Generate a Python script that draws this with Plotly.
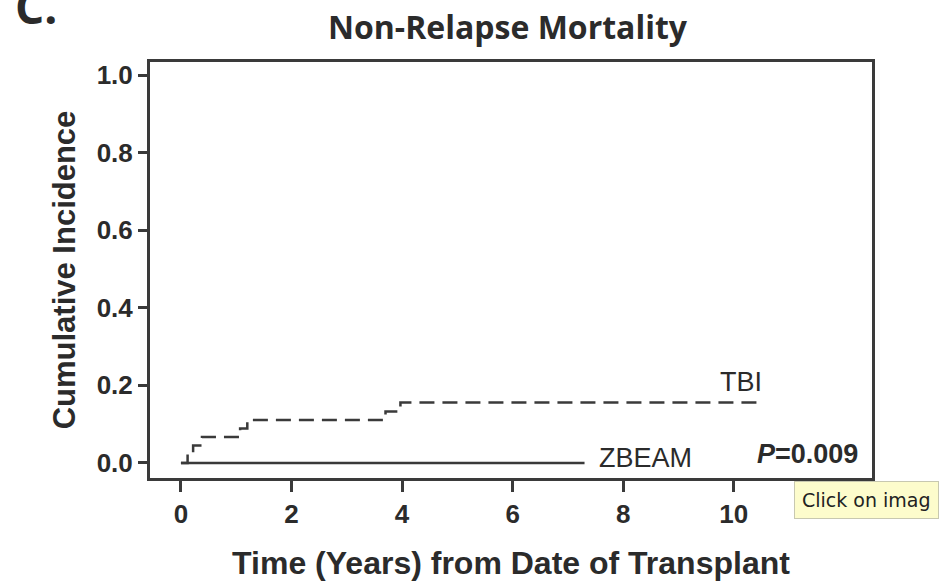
import plotly.graph_objects as go

# Cumulative incidence of non-relapse mortality by conditioning regimen
tbi_years = [0.0, 0.12, 0.22, 0.38, 1.07, 1.20, 3.70, 3.97, 10.5]
tbi_ci = [0.0, 0.022, 0.045, 0.067, 0.089, 0.111, 0.133, 0.156, 0.156]

zbeam_years = [0.0, 7.3]
zbeam_ci = [0.0, 0.0]

x_ticks = [0, 2, 4, 6, 8, 10, 12]
x_ticktext = ["0", "2", "4", "6", "8", "10", ""]
y_ticks = [0.0, 0.2, 0.4, 0.6, 0.8, 1.0]
y_ticktext = ["0.0", "0.2", "0.4", "0.6", "0.8", "1.0"]

FONT = "Liberation Sans, Arial, Helvetica, sans-serif"
TITLE_FONT = "Open Sans, Liberation Sans, sans-serif"
INK = "#2b2b2b"
LINE = "#3a3a3a"

fig = go.Figure()

fig.add_trace(go.Scatter(
    x=zbeam_years, y=zbeam_ci, mode="lines", line_shape="hv",
    line=dict(color=LINE, width=2.5), name="ZBEAM", showlegend=False,
))
fig.add_trace(go.Scatter(
    x=tbi_years, y=tbi_ci, mode="lines", line_shape="hv",
    line=dict(color=LINE, width=2.5, dash="15px,8px"), name="TBI", showlegend=False,
))

annotations = [
    dict(text="<b>Non-Relapse Mortality</b>", xref="paper", yref="paper",
         x=(508 - 150) / 722, y=1 + (62 - 27) / 416, xanchor="center", yanchor="middle",
         showarrow=False, font=dict(family=TITLE_FONT, size=32, color=INK)),
    dict(text="<b>C.</b>", xref="paper", yref="paper",
         x=(13 - 150) / 722, y=1 + (62 - 6) / 416, xanchor="left", yanchor="middle",
         showarrow=False, font=dict(family=TITLE_FONT, size=46, color=INK)),
    dict(text="TBI", xref="x", yref="y", x=tbi_years[-1] + 0.05, y=0.21,
         xanchor="right", yanchor="middle", showarrow=False,
         font=dict(family=FONT, size=27, color=INK)),
    dict(text="ZBEAM", xref="x", yref="y", x=zbeam_years[-1] + 0.22, y=0.014,
         xanchor="left", yanchor="middle", showarrow=False,
         font=dict(family=FONT, size=27, color=INK)),
    dict(text="<b><i>P</i>=0.009</b>", xref="paper", yref="y", x=1 - 12 / 722, y=0.022,
         xanchor="right", yanchor="middle", showarrow=False,
         font=dict(family=FONT, size=27, color=INK)),
    dict(text="Click on imag", xref="paper", yref="paper",
         x=(794 - 150) / 722, y=-(481 - 478) / 416, xanchor="left", yanchor="top",
         showarrow=False, bgcolor="#fdfccc", bordercolor="#c8c8b0", borderwidth=1,
         borderpad=7, font=dict(family="DejaVu Sans, sans-serif", size=19, color="#222")),
]

fig.update_layout(
    width=945, height=581,
    margin=dict(l=150, r=73, t=62, b=103, autoexpand=False),
    paper_bgcolor="white", plot_bgcolor="white",
    showlegend=False,
    annotations=annotations,
    xaxis=dict(
        range=[-0.56, 12.5], tickmode="array", tickvals=x_ticks, ticktext=x_ticktext,
        ticks="outside", ticklen=11, tickwidth=2.5, tickcolor=LINE,
        showline=True, linecolor=LINE, linewidth=3, mirror=True,
        showgrid=False, zeroline=False, automargin=False,
        tickfont=dict(family=FONT, size=26, color=INK, weight="bold"),
        title=dict(text="<b>Time (Years) from Date of Transplant</b>", standoff=30,
                   font=dict(family=FONT, size=32, color=INK)),
    ),
    yaxis=dict(
        range=[-0.0387, 1.0335], tickmode="array", tickvals=y_ticks, ticktext=y_ticktext,
        ticks="outside", ticklen=9, tickwidth=2.5, tickcolor=LINE,
        showline=True, linecolor=LINE, linewidth=3, mirror=True,
        showgrid=False, zeroline=False, automargin=False,
        tickfont=dict(family=FONT, size=26, color=INK, weight="bold"),
        title=dict(text="<b>Cumulative Incidence</b>", standoff=12,
                   font=dict(family=FONT, size=31, color=INK)),
    ),
)

fig.write_html("out.html")
